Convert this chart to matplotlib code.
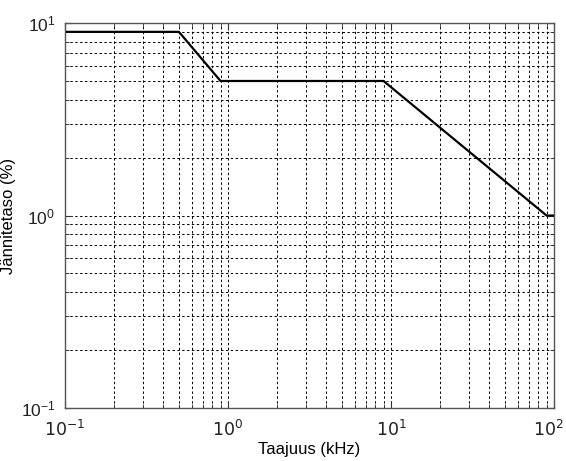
import numpy as np
import matplotlib
matplotlib.use('Agg')
import matplotlib.pyplot as plt
from matplotlib.ticker import LogLocator, NullFormatter, FixedLocator, FixedFormatter

plt.rcParams['font.family'] = ['Liberation Sans', 'DejaVu Sans']

# taajuus (kHz) ja jännitetaso (%)
freq_khz = [0.1, 0.5, 0.9, 9, 90, 100]
level_pct = [9, 9, 5, 5, 1, 1]
x_ticks = [0.1, 1, 10, 100]
x_ticklabels = ['$10^{-1}$', '$10^{0}$', '$10^{1}$', '$10^{2}$']

fig = plt.figure(figsize=(5.66, 4.61), dpi=100)
ax = fig.add_axes([0.1148, 0.115, 0.8640, 0.835])

ax.loglog(freq_khz, level_pct, color='black', linewidth=1.6)

ax.set_xlim(0.1, 100)
ax.set_ylim(0.1, 10)
ax.xaxis.set_major_locator(FixedLocator(x_ticks))
# viimeinen teksti piirretään erikseen hieman vasemmalle, ettei se leikkaudu reunasta
ax.xaxis.set_major_formatter(FixedFormatter(x_ticklabels[:-1] + ['']))
ax.xaxis.set_minor_locator(LogLocator(base=10, subs=np.arange(2, 10)))
ax.yaxis.set_minor_locator(LogLocator(base=10, subs=np.arange(2, 10)))
ax.xaxis.set_minor_formatter(NullFormatter())
ax.yaxis.set_minor_formatter(NullFormatter())

ax.grid(True, which='both', color='black', linestyle=(0, (2.5, 2.5)), linewidth=0.7)
ax.tick_params(which='both', direction='in', top=True, right=True, labelsize=12.5, colors='#333333',
               labelcolor='#222222')
ax.tick_params(axis='x', which='major', pad=8)
ax.tick_params(axis='y', which='major', pad=7)
ax.tick_params(which='major', length=5)
ax.tick_params(which='minor', length=3)
for s in ax.spines.values():
    s.set_color('#555555')
    s.set_linewidth(1.0)

ax.annotate(x_ticklabels[-1], xy=(x_ticks[-1], 0.1), xycoords='data', xytext=(-4, -8),
            textcoords='offset points', ha='center', va='top', fontsize=12.5, color='#222222',
            annotation_clip=False)

ax.set_xlabel('Taajuus (kHz)', fontsize=12, labelpad=2)
ax.set_ylabel('Jännitetaso (%)', fontsize=12)
ax.yaxis.set_label_coords(-0.10, 0.5)

fig.savefig('out.png', dpi=100)
